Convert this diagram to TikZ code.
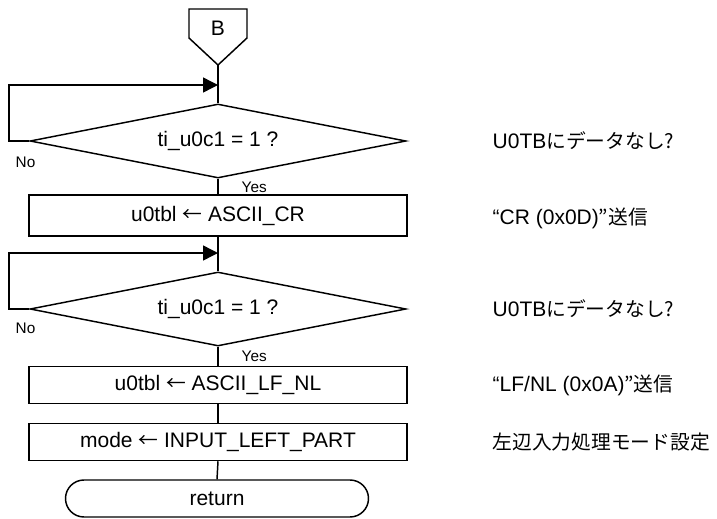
\documentclass[tikz,border=0pt]{standalone}
\usepackage{fontspec}
\setmainfont{Liberation Sans}
\newfontfamily\jp[Scale=0.94]{Noto Sans CJK JP}
\usetikzlibrary{shapes.geometric,shapes.misc,arrows.meta}
\begin{document}
\begin{tikzpicture}[x=0.75pt,y=-0.75pt,line width=1.1pt,
  every node/.style={font=\fontsize{15.75}{18}\selectfont},
  proc/.style={draw,rectangle,minimum width=283.5pt,minimum height=#1,inner sep=0pt},
  dec/.style={draw,diamond,aspect=5.08,minimum width=282pt,minimum height=55.5pt,inner sep=0pt},
  term/.style={draw,rounded rectangle,minimum width=227.25pt,minimum height=27.75pt,inner sep=0pt},
  small/.style={font=\fontsize{11.5}{13}\selectfont,inner sep=0pt},
  note/.style={anchor=west,inner sep=0pt},
  looparrow/.style={-{Triangle[length=11.25pt,width=11.25pt]}}
]
\useasboundingbox (0,0) rectangle (717,518);

% off-page connector B
\draw (189,9) -- (247,9) -- (247,38) -- (218,65) -- (189,38) -- cycle;
\node (B) at (218,28) {B};
\coordinate (Bp) at (218,65);

% first wait loop
\node[dec] (d1) at (218,141) {ti\_u0c1 = 1 ?};
\coordinate (j1) at (218,85);
\coordinate (l1) at (9,85);
\draw (Bp) -- (d1.north);
\draw[looparrow] (d1.west) -| (l1) -- (j1);
\node[small,anchor=west] (no1) at (15,162) {No};
\node[small,anchor=west] (yes1) at (241,187) {Yes};

\node[proc=30.75pt] (b1) at (218,215.5) {u0tbl {\jp ←} ASCII\_CR};
\draw (d1.south) -- (b1.north);

% second wait loop
\node[dec] (d2) at (218,309) {ti\_u0c1 = 1 ?};
\coordinate (j2) at (218,253);
\coordinate (l2) at (9,253);
\draw (b1.south) -- (d2.north);
\draw[looparrow] (d2.west) -| (l2) -- (j2);
\node[small,anchor=west] (no2) at (15,328) {No};
\node[small,anchor=west] (yes2) at (241,356) {Yes};

\node[proc=27.5pt] (b2) at (218,385) {u0tbl {\jp ←} ASCII\_LF\_NL};
\draw (d2.south) -- (b2.north);

\node[proc=27.75pt] (b3) at (218,442) {mode {\jp ←} INPUT\_LEFT\_PART};
\draw (b2.south) -- (b3.north);

\node[term] (ret) at (217,498.5) {return};
\draw (b3.south) -- (ret.north);

% comments
\node[note] (c1) at (492,141) {U0TB\jp{にデータなし}?};
\node[note] (c2) at (492,218) {“CR (0x0D)\jp{”送信}};
\node[note] (c3) at (492,309) {U0TB\jp{にデータなし}?};
\node[note] (c4) at (492,385) {“LF/NL (0x0A)\jp{”送信}};
\node[note] (c5) at (492,442) {\jp 左辺入力処理モード設定};
\end{tikzpicture}
\end{document}
